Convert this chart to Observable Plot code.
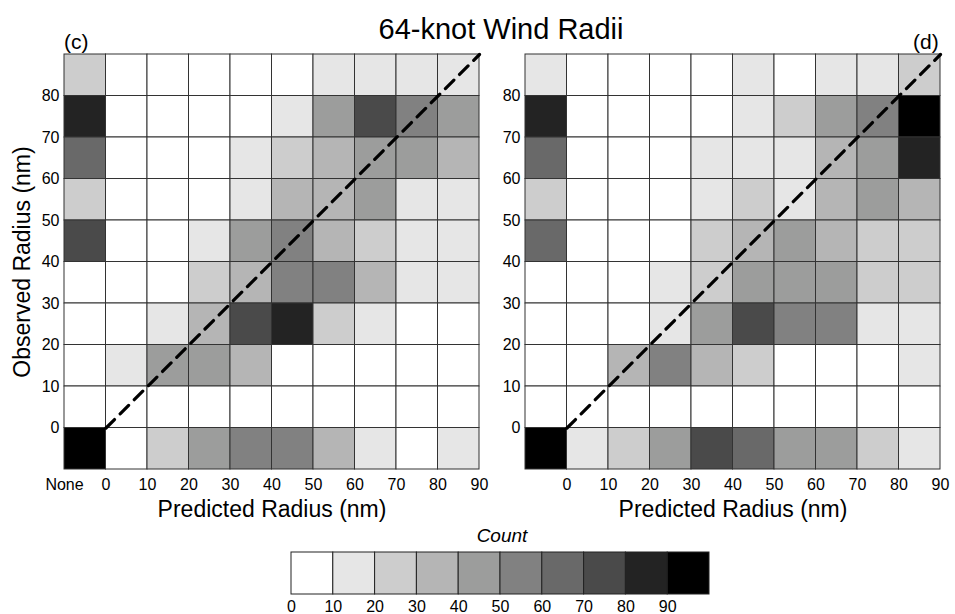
<!DOCTYPE html>
<html>
<head>
<meta charset="utf-8">
<script src="https://cdn.jsdelivr.net/npm/d3@7"></script>
<script src="https://cdn.jsdelivr.net/npm/@observablehq/plot@0.6"></script>
<style>
  html, body { margin: 0; padding: 0; background: #fff; }
  #page { position: relative; width: 955px; height: 614px; overflow: hidden;
          font-family: "Liberation Sans", Arial, sans-serif; color: #000; }
  #page svg { position: absolute; }
  .txt { position: absolute; white-space: nowrap; line-height: 1; }
</style>
</head>
<body>
<div id="page"></div>
<script>
// Bin lower edges (nm); -10 stands for the "None" bin.
const predictedBins = [-10, 0, 10, 20, 30, 40, 50, 60, 70, 80];
const observedBins = [80, 70, 60, 50, 40, 30, 20, 10, 0, -10]; // top row first

// Counts per cell, rows ordered as observedBins, columns as predictedBins.
const countsC = [
  [25,  5,  5,  5,  5,  5, 15, 15, 15, 15],
  [85,  5,  5,  5,  5, 15, 45, 75, 55, 45],
  [65,  5,  5,  5, 15, 25, 35, 45, 45, 35],
  [25,  5,  5,  5, 15, 35, 35, 45, 15, 15],
  [75,  5,  5, 15, 45, 55, 35, 25, 15, 15],
  [ 5,  5,  5, 25, 35, 55, 55, 35, 15, 15],
  [ 5,  5, 15, 35, 75, 85, 25, 15,  5,  5],
  [ 5, 15, 45, 45, 35,  5,  5,  5,  5,  5],
  [ 5,  5,  5,  5,  5,  5,  5,  5,  5,  5],
  [95,  5, 25, 45, 55, 55, 35, 15,  5, 15]
];
const countsD = [
  [15,  5,  5,  5,  5, 15,  5, 15, 15, 25],
  [85,  5,  5,  5,  5, 15, 25, 45, 55, 95],
  [65,  5,  5,  5, 15, 15, 15, 35, 45, 85],
  [25,  5,  5,  5, 15, 25, 15, 35, 45, 35],
  [65,  5,  5,  5, 25, 35, 45, 35, 25, 25],
  [ 5,  5,  5, 15, 25, 45, 45, 45, 25, 25],
  [ 5,  5,  5, 15, 45, 75, 55, 55, 15, 15],
  [ 5,  5, 35, 55, 35, 25,  5,  5,  5, 15],
  [ 5,  5,  5,  5,  5,  5,  5,  5,  5,  5],
  [95, 15, 25, 45, 75, 65, 45, 45, 25, 15]
];

// Count classes and their gray shades
const countThresholds = [10, 20, 30, 40, 50, 60, 70, 80, 90];
const countTicks = [0, 10, 20, 30, 40, 50, 60, 70, 80, 90];
const grays = ["#ffffff", "#e6e6e6", "#cdcdcd", "#b5b5b5", "#9c9d9c",
               "#818181", "#696969", "#4a4a4a", "#232323", "#000000"];

const radiusTicks = [0, 10, 20, 30, 40, 50, 60, 70, 80, 90];
const observedTicks = [0, 10, 20, 30, 40, 50, 60, 70, 80];

const colorScale = {type: "threshold", domain: countThresholds, range: grays};
const fontStyle = {fontFamily: "'Liberation Sans', Arial, sans-serif", fontSize: "16px",
                   color: "#000", background: "transparent", overflow: "visible"};

function toCells(counts) {
  const cells = [];
  counts.forEach((row, i) => row.forEach((count, j) => {
    cells.push({x: predictedBins[j], y: observedBins[i], count});
  }));
  return cells;
}

function panel(counts, {width, marginLeft, marginRight, xTicks, xFormat}) {
  return Plot.plot({
    width, height: 530,
    marginLeft, marginRight, marginTop: 54, marginBottom: 61,
    style: fontStyle,
    x: {domain: [-10, 90]},
    y: {domain: [-10, 90]},
    color: colorScale,
    marks: [
      Plot.rect(toCells(counts), {
        x1: "x", x2: d => d.x + 10, y1: "y", y2: d => d.y + 10,
        fill: "count", stroke: "#333", strokeWidth: 1
      }),
      Plot.line([[0, 0], [90, 90]], {
        stroke: "#000", strokeWidth: 3.2, strokeDasharray: "12,8"
      }),
      Plot.axisX({ticks: xTicks, tickFormat: xFormat, tickSize: 0, tickPadding: 9,
                  fontSize: 16, label: null}),
      Plot.axisY({ticks: observedTicks, tickSize: 0, tickPadding: 5,
                  fontSize: 16, label: null})
    ]
  });
}

const page = document.getElementById("page");

const left = panel(countsC, {
  width: 482, marginLeft: 64, marginRight: 3,
  xTicks: [-10, ...radiusTicks], xFormat: d => d < 0 ? "None" : d
});
left.style.left = "0px"; left.style.top = "0px";
page.appendChild(left);

const right = panel(countsD, {
  width: 475, marginLeft: 45, marginRight: 15,
  xTicks: radiusTicks, xFormat: d => d
});
right.style.left = "480px"; right.style.top = "0px";
page.appendChild(right);

// Count legend
const legendBins = countTicks.map(v => ({x: v, count: v + 5}));
const legend = Plot.plot({
  width: 440, height: 70,
  marginLeft: 10, marginRight: 12, marginTop: 2, marginBottom: 26,
  style: fontStyle,
  x: {domain: [0, 100]},
  y: {domain: [0, 1], axis: null},
  color: colorScale,
  marks: [
    Plot.rect(legendBins, {x1: "x", x2: d => d.x + 10, y1: 0, y2: 1,
                           fill: "count", stroke: "#222", strokeWidth: 1}),
    Plot.axisX({ticks: countTicks, tickSize: 0, tickPadding: 6, fontSize: 16, label: null})
  ]
});
legend.style.left = "281px"; legend.style.top = "550px";
page.appendChild(legend);

// Titles and labels
function addText(text, css) {
  const el = document.createElement("div");
  el.className = "txt";
  el.textContent = text;
  Object.assign(el.style, css);
  page.appendChild(el);
  return el;
}
addText("64-knot Wind Radii", {left: "501px", top: "15px", fontSize: "29px", transform: "translateX(-50%)"});
addText("(c)", {left: "64px", top: "31px", fontSize: "21px"});
addText("(d)", {left: "913px", top: "31px", fontSize: "21px"});
addText("Predicted Radius (nm)", {left: "272px", top: "498px", fontSize: "23px", transform: "translateX(-50%)"});
addText("Predicted Radius (nm)", {left: "733px", top: "498px", fontSize: "23px", transform: "translateX(-50%)"});
addText("Observed Radius (nm)", {left: "22px", top: "262px", fontSize: "23px",
  transform: "translate(-50%, -50%) rotate(-90deg)"});
addText("Count", {left: "502px", top: "526px", fontSize: "19px", fontStyle: "italic", transform: "translateX(-50%)"});
</script>
</body>
</html>
